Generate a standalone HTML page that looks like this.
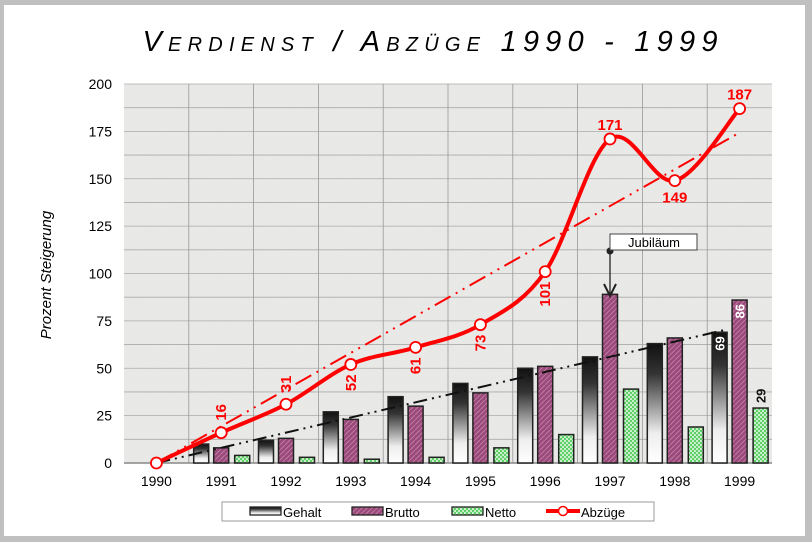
<!DOCTYPE html>
<html><head><meta charset="utf-8"><style>
html,body{margin:0;padding:0;background:#c0c0c0;}
#wrap{position:relative;width:812px;height:542px;overflow:hidden;background:#c0c0c0;}
#panel{position:absolute;left:4px;top:5px;width:801px;height:531px;background:#fff;}
svg{position:absolute;left:0;top:0;}
text{font-family:"Liberation Sans",sans-serif;}
</style></head><body>
<div id="wrap">
<div id="panel"></div>
<svg id="chart" width="812" height="542">
<defs>
<filter id="tex" x="0" y="0" width="100%" height="100%">
<feTurbulence type="fractalNoise" baseFrequency="0.9" numOctaves="2" seed="3"/>
<feColorMatrix type="matrix" values="0 0 0 0 0.82  0 0 0 0 0.82  0 0 0 0 0.81  0 0 0 -1.6 1.1"/>
</filter>
<linearGradient id="gGeh" x1="0" y1="0" x2="0" y2="1">
<stop offset="0" stop-color="#111"/><stop offset="0.25" stop-color="#333"/><stop offset="0.75" stop-color="#eee"/><stop offset="1" stop-color="#fff"/>
</linearGradient>
<pattern id="pBru" width="5" height="5" patternUnits="userSpaceOnUse">
<rect width="5" height="5" fill="#9a4a7a"/><path d="M0 5L5 0" stroke="#c07aa2" stroke-width="1"/>
</pattern>
<pattern id="pNet" width="4" height="4" patternUnits="userSpaceOnUse">
<rect width="4" height="4" fill="#5fcf6a"/><rect width="2" height="2" fill="#c8f0c8"/><rect x="2" y="2" width="2" height="2" fill="#c8f0c8"/>
</pattern>
</defs>
<text x="430" y="51" text-anchor="middle" font-size="29" font-style="italic" textLength="575" lengthAdjust="spacing" style="font-variant:small-caps">Verdienst / Abzüge 1990 - 1999</text>
<text transform="translate(51,275) rotate(-90)" text-anchor="middle" font-size="15" font-style="italic">Prozent Steigerung</text>
<g id="plot"></g>
</svg>
</div>
<script>
const categories = ["1990","1991","1992","1993","1994","1995","1996","1997","1998","1999"];
const gehalt = [0,10,12,27,35,42,50,56,63,69];
const brutto = [0,8,13,23,30,37,51,89,66,86];
const netto = [0,4,3,2,3,8,15,39,19,29];
const abzuege = [0,16,31,52,61,73,101,171,149,187];
const yTicks = [0,25,50,75,100,125,150,175,200];

const L=124,R=772,T=84,B=463,yMax=200;
const bw=(R-L)/categories.length;
const xC=i=>L+(i+0.5)*bw;
const yS=v=>B-(v/yMax)*(B-T);
const NS="http://www.w3.org/2000/svg";
const g=document.getElementById('plot');
function mk(tag,attrs,parent){const e=document.createElementNS(NS,tag);for(const k in attrs)e.setAttribute(k,attrs[k]);(parent||g).appendChild(e);return e;}

let bg=mk('rect',{x:L,y:T,width:R-L,height:B-T,fill:'#e8e8e6'});


let tx=mk('rect',{x:L,y:T,width:R-L,height:B-T,filter:'url(#tex)'});


for(let v=0;v<=yMax;v+=12.5){
  let l=mk('line',{x1:L,x2:R,y1:yS(v),y2:yS(v),stroke:'#aaa','stroke-width':0.8});
  
  
}
for(let i=1;i<categories.length;i++){
  let l=mk('line',{x1:L+i*bw,x2:L+i*bw,y1:T,y2:B,stroke:'#999','stroke-width':0.8});
  
  
}
let ax=mk('line',{x1:L,x2:R,y1:B,y2:B,stroke:'#888','stroke-width':1.5});


yTicks.forEach(v=>{
  let t=mk('text',{x:112,y:yS(v)+5,'text-anchor':'end','font-size':14});
  t.textContent=v;
  
  
});
categories.forEach((c,i)=>{
  let t=mk('text',{x:xC(i),y:486,'text-anchor':'middle','font-size':14});
  t.textContent=c;
  
  
});
const barW=15;
[[gehalt,'url(#gGeh)',-20,'bar-gehalt'],[brutto,'url(#pBru)',0,'bar-brutto'],[netto,'url(#pNet)',21,'bar-netto']].forEach(([arr,fill,off,name])=>{
  arr.forEach((v,i)=>{
    if(v<=0)return;
    let r=mk('rect',{x:xC(i)+off-barW/2,y:yS(v),width:barW,height:B-yS(v),fill:fill,stroke:'#222','stroke-width':1.5});
    
    
  });
});
function trend(arr){let sxy=0,sxx=0;arr.forEach((v,i)=>{sxy+=i*v;sxx+=i*i;});return sxy/sxx;}
const n=categories.length-1;
let sg=trend(gehalt);
let tg=mk('line',{x1:xC(0),y1:yS(0),x2:xC(n)-15,y2:yS(sg*(n-15/bw)),stroke:'#111','stroke-width':2,'stroke-dasharray':'14 5 2 5 2 5'});


let sa=trend(abzuege);
let ta=mk('line',{x1:xC(0),y1:yS(0),x2:xC(n),y2:yS(sa*n),stroke:'#f00','stroke-width':2,'stroke-dasharray':'18 6 2 6 2 6'});


const pts=abzuege.map((v,i)=>[xC(i),yS(v)]);
let d='M'+pts[0][0]+' '+pts[0][1];
for(let i=0;i<pts.length-1;i++){
  const p0=pts[Math.max(0,i-1)],p1=pts[i],p2=pts[i+1],p3=pts[Math.min(pts.length-1,i+2)];
  const c1=[p1[0]+(p2[0]-p0[0])/6,p1[1]+(p2[1]-p0[1])/6];
  const c2=[p2[0]-(p3[0]-p1[0])/6,p2[1]-(p3[1]-p1[1])/6];
  d+=` C${c1[0]} ${c1[1]} ${c2[0]} ${c2[1]} ${p2[0]} ${p2[1]}`;
}
let ln=mk('path',{d:d,fill:'none',stroke:'#f00','stroke-width':4});


pts.forEach((p,i)=>{
  let c=mk('circle',{cx:p[0],cy:p[1],r:5.5,fill:'#fff',stroke:'#f00','stroke-width':1.8});
  
  
});
abzuege.forEach((v,i)=>{
  if(i===0)return;
  let t;
  if(v>=140){
    const y=i===8?yS(v)+22:yS(v)-9;
    t=mk('text',{x:xC(i),y:y,'text-anchor':'middle','font-size':15,'font-weight':'bold',fill:'#f00'});
  } else {
    const below=(i>=3&&i<=6);
    const x=xC(i)+5,y=below?yS(v)+10:yS(v)-12;
    t=mk('text',{transform:`translate(${x},${y}) rotate(-90)`,'text-anchor':below?'end':'start','font-size':15,'font-weight':'bold',fill:'#f00'});
  }
  t.textContent=v;
  
  
});
{
  let t=mk('text',{transform:`translate(${xC(9)-15},${yS(gehalt[9])+4}) rotate(-90)`,'text-anchor':'end','font-size':13,'font-weight':'bold',fill:'#fff'});
  t.textContent=gehalt[9];
  
  
  let t2=mk('text',{transform:`translate(${xC(9)+5},${yS(brutto[9])+4}) rotate(-90)`,'text-anchor':'end','font-size':13,'font-weight':'bold',fill:'#fff'});
  t2.textContent=brutto[9];
  
  
  let t3=mk('text',{transform:`translate(${xC(9)+26},${yS(netto[9])-5}) rotate(-90)`,'text-anchor':'start','font-size':13,'font-weight':'bold',fill:'#111'});
  t3.textContent=netto[9];
  
  
}
{
  const ax=xC(7);
  let l=mk('line',{x1:ax,y1:251,x2:ax,y2:294,stroke:'#222','stroke-width':1.3});
  
  
  let h=mk('path',{d:`M${ax-6} 284 L${ax} 296 L${ax+6} 284`,fill:'none',stroke:'#222','stroke-width':2});
  
  
  let dot=mk('circle',{cx:ax,cy:251,r:3.5,fill:'#222'});
  
  
  let bx=mk('rect',{x:ax,y:234,width:87,height:16,fill:'#fff',stroke:'#444','stroke-width':1});
  
  
  let t=mk('text',{x:ax+44,y:247,'text-anchor':'middle','font-size':13});
  t.textContent='Jubiläum';
  
  
}
{
  let lg=mk('g',{});
  
  
  mk('rect',{x:222,y:502,width:432,height:19,fill:'#fff',stroke:'#999'},lg);
  const items=[['Gehalt','url(#gGeh)',250],['Brutto','url(#pBru)',352],['Netto','url(#pNet)',452]];
  items.forEach(([n,f,x])=>{
    let e=mk('g',{},lg);
    
    
    mk('rect',{x:x,y:507,width:31,height:8,fill:f,stroke:'#222','stroke-width':1.3},e);
    let t=mk('text',{x:x+33,y:517,'font-size':13},e);
    t.textContent=n;
  });
  let e=mk('g',{},lg);
  
  
  mk('line',{x1:546,x2:580,y1:511,y2:511,stroke:'#f00','stroke-width':4},e);
  mk('circle',{cx:563,cy:511,r:4.5,fill:'#fff',stroke:'#f00','stroke-width':1.5},e);
  let t=mk('text',{x:581,y:517,'font-size':13},e);
  t.textContent='Abzüge';
}
</script>
</body></html>
